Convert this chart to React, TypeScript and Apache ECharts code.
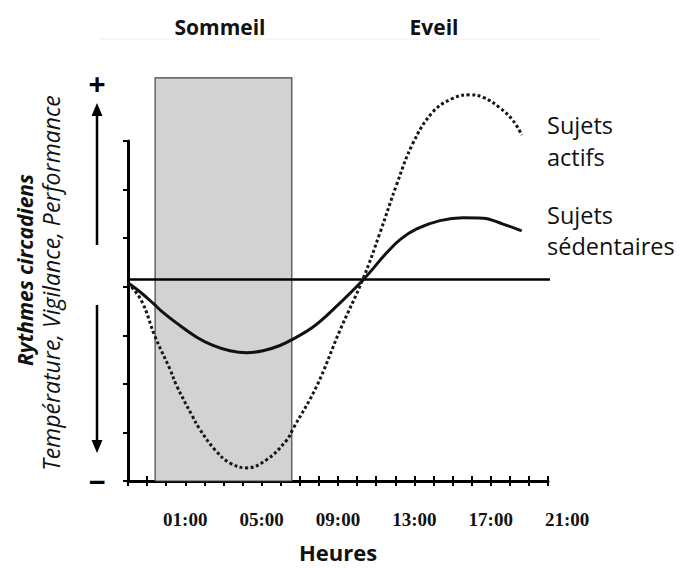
import React, { useEffect, useRef } from "react";
import * as echarts from "echarts";

// Hours counted from 22:00 (x = 0); one tick per hour
const tickHours = [3, 7, 11, 15, 19, 23];
const tickLabels = ["01:00", "05:00", "09:00", "13:00", "17:00", "21:00"];

// Sujets actifs (dotted curve)
const activeX = [0, 0.72, 1.41, 2.2, 2.55, 3.34, 3.77, 4.56, 5.34, 6.22, 7.27, 8.31, 8.64, 9.88, 11.1, 12.31, 13.2, 14.07, 14.92, 15.97, 17.02, 17.92, 18.6, 19.49, 20.17, 20.63];
const activeY = [4.08, 3.7, 2.98, 2.3, 1.96, 1.36, 1.06, 0.64, 0.37, 0.27, 0.44, 0.84, 1.07, 1.95, 3.1, 4.16, 5.11, 6.1, 6.95, 7.6, 7.88, 7.95, 7.9, 7.68, 7.42, 7.12];

// Sujets sédentaires (solid curve)
const sedentaryX = [0, 0.7, 1.31, 1.83, 2.55, 3.6, 4.45, 5.34, 6.22, 7.07, 7.96, 8.64, 9.69, 10.74, 12.31, 13.55, 14.25, 15.12, 16.34, 17.55, 18.6, 19.64, 20.62];
const sedentaryY = [4.08, 3.87, 3.66, 3.47, 3.25, 2.96, 2.79, 2.68, 2.64, 2.68, 2.79, 2.92, 3.17, 3.53, 4.14, 4.7, 4.97, 5.19, 5.36, 5.42, 5.41, 5.29, 5.15];

// Reference level and sleep period
const baselineLevel = 4.15;
const baselineEnd = 22.16;
const sleepStart = 1.42;
const sleepEnd = 8.58;
const sleepTop = 8.3;

const SANS = "'Open Sans', 'Noto Sans', sans-serif";
const SERIF = "'Liberation Serif', 'DejaVu Serif', serif";

export default function App() {
  const ref = useRef<HTMLDivElement>(null);
  useEffect(() => {
    const chart = echarts.init(ref.current!, null, { renderer: "svg" });
    const gridW = 420;
    const option: any = {
      animation: false,
      backgroundColor: "#ffffff",
      grid: [
        { left: 128, top: 141, width: gridW, height: 354.5 },
        { left: 128, top: 141, width: (gridW * 23) / 22, height: 354.5 },
      ],
      xAxis: [
        {
          type: "value",
          gridIndex: 0,
          min: 0,
          max: 22,
          interval: 1,
          axisLine: { show: true, lineStyle: { color: "#000", width: 3 } },
          axisTick: { show: true, inside: false, length: 5, lineStyle: { color: "#000", width: 2 } },
          splitLine: { show: false },
          axisLabel: { show: false },
          name: "Heures",
          nameLocation: "middle",
          nameGap: 60,
          nameTextStyle: { fontFamily: SANS, fontWeight: "bold", fontSize: 22, color: "#111" },
        },
        {
          type: "value",
          gridIndex: 0,
          min: 0,
          max: 22,
          interval: 1,
          position: "bottom",
          axisLine: { show: false },
          axisTick: { show: true, inside: true, length: 5, lineStyle: { color: "#000", width: 2 } },
          axisLabel: { show: false },
          splitLine: { show: false },
        },
        {
          type: "value",
          gridIndex: 1,
          min: 0,
          max: 23,
          interval: 1,
          position: "bottom",
          axisLine: { show: false },
          axisTick: { show: false },
          splitLine: { show: false },
          axisLabel: {
            show: true,
            showMinLabel: true,
            showMaxLabel: true,
            hideOverlap: false,
            margin: 14,
            fontFamily: SERIF,
            fontWeight: "bold",
            fontSize: 19,
            color: "#111",
            formatter: (v: number) => {
              const r = Math.round(v);
              const i = tickHours.indexOf(r);
              return i >= 0 && Math.abs(v - r) < 1e-6 ? tickLabels[i] : "";
            },
          },
        },
      ],
      yAxis: [
        {
          type: "value",
          gridIndex: 0,
          min: 0,
          max: 7,
          interval: 1,
          axisLine: { show: true, lineStyle: { color: "#000", width: 3 } },
          axisTick: { show: true, inside: false, length: 5, lineStyle: { color: "#000", width: 2 } },
          axisLabel: { show: false },
          splitLine: { show: false },
        },
        { type: "value", gridIndex: 1, min: 0, max: 7, show: false, splitLine: { show: false } },
      ],
      series: [
        {
          type: "custom",
          name: "Sommeil",
          clip: false,
          z: 1,
          data: [[sleepStart, sleepEnd, 0, sleepTop]],
          renderItem: (_p: any, api: any) => {
            const a = api.coord([api.value(0), api.value(3)]);
            const b = api.coord([api.value(1), api.value(2)]);
            return {
              type: "rect",
              shape: { x: a[0], y: a[1], width: b[0] - a[0], height: b[1] - a[1] },
              style: { fill: "#d2d2d2", stroke: "#444", lineWidth: 1.2 },
            };
          },
        },
        {
          type: "line",
          name: "Référence",
          clip: false,
          z: 3,
          symbol: "none",
          data: [[0, baselineLevel], [baselineEnd, baselineLevel]],
          lineStyle: { color: "#000", width: 2.5 },
        },
        {
          type: "line",
          name: "Sujets sédentaires",
          smooth: 0.4,
          clip: false,
          z: 4,
          symbol: "none",
          data: sedentaryX.map((x, i) => [x, sedentaryY[i]]),
          lineStyle: { color: "#111", width: 3 },
        },
        {
          type: "line",
          name: "Sujets actifs",
          smooth: 0.4,
          clip: false,
          z: 4,
          symbol: "none",
          data: activeX.map((x, i) => [x, activeY[i]]),
          lineStyle: { color: "#1a1420", width: 3, type: [3, 2.5] },
        },
      ],
    };
    chart.setOption(option);

    const textStyle = (text: string, size: number, weight = "normal", style = "normal") => ({
      text,
      fontFamily: SANS,
      fontSize: size,
      fontWeight: weight,
      fontStyle: style,
      fill: "#111",
      align: "center",
      verticalAlign: "middle",
    });
    chart.setOption({
      graphic: [
        { type: "line", shape: { x1: 100, y1: 39, x2: 600, y2: 39 }, style: { stroke: "#f0f0f0", lineWidth: 1 } },
        { type: "text", x: 220, y: 27, style: textStyle("Sommeil", 21, "bold") },
        { type: "text", x: 434, y: 27, style: textStyle("Eveil", 21, "bold") },
        { type: "text", x: 547, y: 125, style: { ...textStyle("Sujets", 23.5), align: "left" } },
        { type: "text", x: 547, y: 157, style: { ...textStyle("actifs", 23.5), align: "left" } },
        { type: "text", x: 547, y: 215, style: { ...textStyle("Sujets", 23.5), align: "left" } },
        { type: "text", x: 547, y: 246, style: { ...textStyle("sédentaires", 23.5), align: "left" } },
        { type: "text", x: 25, y: 270, rotation: Math.PI / 2, style: textStyle("Rythmes circadiens", 21, "bold", "italic") },
        { type: "text", x: 51, y: 283, rotation: Math.PI / 2, style: textStyle("Température, Vigilance, Performance", 23, "normal", "italic") },
        { type: "text", x: 97, y: 83, style: { ...textStyle("+", 30, "bold"), fill: "#000" } },
        { type: "text", x: 97, y: 481, style: { ...textStyle("−", 30, "bold"), fill: "#000" } },
        { type: "line", shape: { x1: 97, y1: 245, x2: 97, y2: 112 }, style: { stroke: "#000", lineWidth: 2.5 } },
        { type: "polygon", shape: { points: [[97, 103], [91.5, 116], [102.5, 116]] }, style: { fill: "#000" } },
        { type: "line", shape: { x1: 97, y1: 305, x2: 97, y2: 443 }, style: { stroke: "#000", lineWidth: 2.5 } },
        { type: "polygon", shape: { points: [[97, 453], [91.5, 440], [102.5, 440]] }, style: { fill: "#000" } },
      ],
    });
    return () => chart.dispose();
  }, []);
  return (
    <div
      ref={ref}
      style={{ position: "absolute", left: 0, top: 0, width: 681, height: 568, background: "#fff" }}
    />
  );
}
